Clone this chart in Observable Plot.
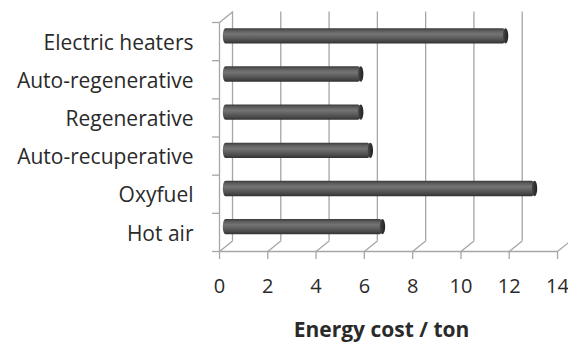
<!DOCTYPE html>
<html>
<head>
<meta charset="utf-8">
<script src="https://cdn.jsdelivr.net/npm/d3@7"></script>
<script src="https://cdn.jsdelivr.net/npm/@observablehq/plot@0.6"></script>
<style>
  html, body { margin: 0; padding: 0; background: #fff; }
</style>
</head>
<body>
<div id="chart"></div>
<script>
// Categories top to bottom and their energy cost per ton
const categories = ["Electric heaters", "Auto-regenerative", "Regenerative", "Auto-recuperative", "Oxyfuel", "Hot air"];
const energyCost = [11.6, 5.6, 5.6, 6.0, 12.8, 6.5];
const xTicks = [0, 2, 4, 6, 8, 10, 12, 14];
const axisTitle = "Energy cost / ton";

const rows = categories.map((name, i) => ({name, i, value: energyCost[i]}));
const boundaries = d3.range(categories.length + 1);
const n = categories.length;

// Pseudo-3D depth of the plot box (pixels)
const depthX = 13, depthY = -10.5;
const depthLen = Math.hypot(depthX, depthY);
const depthAngle = Math.atan2(depthX, -depthY) * 180 / Math.PI;
const grid = "#a6a6a6";
const gridWidth = 1.3;
const lineShape = {draw(ctx, l) { ctx.moveTo(0, 0); ctx.lineTo(0, -l); }};

// Cylinder geometry
const barInset = 11.4, capR = 2.7, halfH = 7.7;
const textColor = "#2a2a2a";

const chart = Plot.plot({
  width: 568,
  height: 346,
  marginLeft: 219,
  marginRight: 11,
  marginTop: 22,
  marginBottom: 95,
  x: {domain: [0, 14]},
  y: {domain: [0, n], reverse: true},
  style: {fontFamily: "'Open Sans', sans-serif", background: "#fff", color: textColor},
  marks: [
    // back wall gridlines
    Plot.ruleX(xTicks, {dx: depthX, dy: depthY, stroke: grid, strokeWidth: gridWidth}),
    // floor depth edges
    Plot.vector(xTicks, {x: d => d, y: n, length: depthLen, rotate: depthAngle, anchor: "start", shape: lineShape, stroke: grid, strokeWidth: gridWidth}),
    // top of the left wall
    Plot.vector([0], {x: d => d, y: 0, length: depthLen, rotate: depthAngle, anchor: "start", shape: lineShape, stroke: grid, strokeWidth: gridWidth}),
    // front left edge and front floor edge
    Plot.ruleX([0], {stroke: grid, strokeWidth: gridWidth}),
    Plot.ruleY([n], {stroke: grid, strokeWidth: gridWidth}),
    // cylinder bodies
    Plot.rect(rows, {
      x1: 0, x2: "value", y1: "i", y2: d => d.i + 1,
      insetTop: barInset, insetBottom: barInset, insetLeft: -capR,
      dx: depthX / 2, dy: depthY / 2,
      rx: capR, ry: halfH,
      fill: "url(#cyl-body)"
    }),
    // cylinder end faces
    Plot.rect(rows, {
      x1: "value", x2: "value", y1: "i", y2: d => d.i + 1,
      insetTop: barInset, insetBottom: barInset, insetLeft: -capR, insetRight: -capR,
      dx: depthX / 2, dy: depthY / 2,
      rx: capR, ry: halfH,
      fill: "url(#cyl-cap)"
    }),
    // category boundary ticks
    Plot.axisY({ticks: boundaries, tickSize: 7, tickFormat: () => "", stroke: grid, strokeWidth: gridWidth, label: null}),
    // category labels
    Plot.axisY({
      ticks: categories.map((_, i) => i + 0.5),
      tickFormat: d => categories[Math.floor(d)],
      tickSize: 0, tickPadding: 26, fontSize: 21, dy: 1.5,
      fill: textColor, label: null
    }),
    // value axis
    Plot.axisX({ticks: xTicks, tickSize: 8, tickPadding: 19, fontSize: 20, stroke: grid, strokeWidth: gridWidth, fill: textColor, label: null}),
    Plot.text([axisTitle], {text: d => d, frameAnchor: "bottom", dy: 85, dx: -7, fontSize: 21, fontWeight: "bold", fill: textColor})
  ]
});

// gradients for the cylinders
const defs = d3.select(chart).insert("defs", ":first-child");
const body = defs.append("linearGradient").attr("id", "cyl-body").attr("x1", 0).attr("y1", 0).attr("x2", 0).attr("y2", 1);
[[0, "#3a3a3a"], [0.18, "#5e5e5e"], [0.38, "#747474"], [0.6, "#606060"], [0.85, "#464646"], [1, "#303030"]]
  .forEach(([o, c]) => body.append("stop").attr("offset", o).attr("stop-color", c));
const cap = defs.append("linearGradient").attr("id", "cyl-cap").attr("x1", 0).attr("y1", 0).attr("x2", 1).attr("y2", 0);
[[0, "#4a4a4a"], [0.5, "#333"], [1, "#222"]]
  .forEach(([o, c]) => cap.append("stop").attr("offset", o).attr("stop-color", c));

document.getElementById("chart").append(chart);
</script>
</body>
</html>
